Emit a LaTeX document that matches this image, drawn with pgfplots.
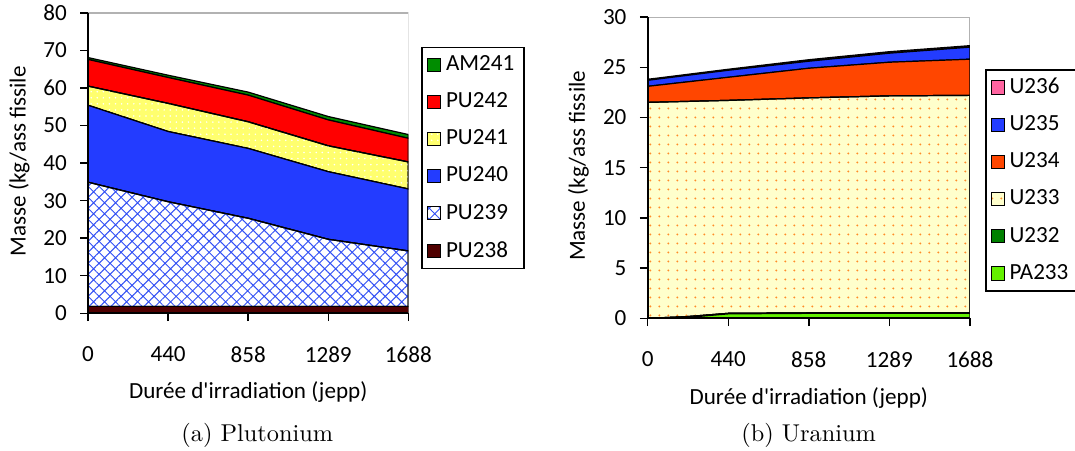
\documentclass[border=0pt]{standalone}
\usepackage{fontspec}
\usepackage{pgfplots}
\pgfplotsset{compat=1.18}
\usetikzlibrary{patterns,patterns.meta}
\newfontfamily\calibri{Carlito}
\definecolor{amgreen}{RGB}{0,140,0}
\definecolor{pured}{RGB}{255,0,0}
\definecolor{puyellow}{RGB}{255,255,110}
\definecolor{publue}{RGB}{35,60,255}
\definecolor{puhatch}{RGB}{50,80,245}
\definecolor{pumaroon}{RGB}{80,0,0}
\definecolor{upink}{RGB}{255,100,160}
\definecolor{uorange}{RGB}{255,70,0}
\definecolor{ulight}{RGB}{255,255,204}
\definecolor{udot}{RGB}{255,140,40}
\definecolor{ugreen}{RGB}{0,128,0}
\definecolor{palime}{RGB}{100,240,0}
\pgfplotsset{
  myaxis/.style={
    scale only axis,
    font=\calibri\fontsize{9.5}{11}\selectfont,
    /pgf/number format/assume math mode=true,
    stack plots=y, area style,
    xmin=0, xmax=4,
    xtick={0,1,2,3,4}, xticklabels={0,440,858,1289,1688},
    axis x line*=bottom, axis y line*=left,
    axis line style={black, line width=0.8pt},
    tick align=outside, major tick length=3.2pt,
    tick style={black, line width=0.6pt},
    xticklabel style={yshift=-7pt},
    yticklabel style={xshift=-2pt},
    xlabel style={at={(axis description cs:0.5,-0.263)}, anchor=center},
    ylabel style={at={(axis description cs:-0.215,0.506)}, anchor=center, rotate=0},
    reverse legend,
    legend cell align=left,
    legend style={draw=black, line width=0.6pt, font=\calibri\fontsize{9.5}{11}\selectfont,
      row sep=3.6pt, inner xsep=2pt, inner ysep=1.3pt},
    legend image code/.code={\draw[#1,draw=black,line width=0.4pt] (0pt,-2.7pt) rectangle (5.4pt,2.7pt);},
  },
  every axis plot/.append style={draw=black, line width=0.5pt},
}
\begin{document}
\begin{tikzpicture}
\path[use as bounding box] (0,0) rectangle (442pt,185.2pt);
% ---------------- Plutonium ----------------
\begin{axis}[myaxis,
  at={(36.2pt,56.4pt)}, anchor=south west,
  width=131.7pt, height=123.5pt,
  ymin=0, ymax=80, ytick={0,10,...,80},
  xlabel={Durée d'irradiation (jepp)},
  ylabel={Masse (kg/ass fissile},
  legend style={at={(axis description cs:1.041,0.887)}, anchor=north west},
]
\addplot[fill=pumaroon] coordinates {(0,1.8) (1,1.8) (2,1.8) (3,1.8) (4,1.8)} \closedcycle;
\addlegendentry{PU238}
\addplot[fill=white, postaction={pattern={Hatch[distance=3.2pt,angle=45,line width=0.4pt]}, pattern color=puhatch}]
  coordinates {(0,33.1) (1,27.9) (2,23.5) (3,17.9) (4,14.8)} \closedcycle;
\addlegendentry{PU239}
\addplot[fill=publue] coordinates {(0,20.5) (1,18.7) (2,18.6) (3,18.0) (4,16.5)} \closedcycle;
\addlegendentry{PU240}
\addplot[fill=puyellow, postaction={pattern={Dots[distance=2.5pt,radius=0.35pt]}, pattern color=white}]
  coordinates {(0,5.1) (1,7.5) (2,7.1) (3,6.9) (4,7.2)} \closedcycle;
\addlegendentry{PU241}
\addplot[fill=pured] coordinates {(0,7.1) (1,6.9) (2,7.1) (3,6.9) (4,6.3)} \closedcycle;
\addlegendentry{PU242}
\addplot[fill=amgreen] coordinates {(0,0.5) (1,0.6) (2,0.8) (3,0.9) (4,1.0)} \closedcycle;
\addlegendentry{AM241}
\draw[gray!60, line width=0.6pt] (rel axis cs:0,1) -- (rel axis cs:1,1) -- (rel axis cs:1,0);
\end{axis}
% ---------------- Uranium ----------------
\begin{axis}[myaxis,
  at={(266.3pt,54.3pt)}, anchor=south west,
  width=132.5pt, height=123.9pt,
  ymin=0, ymax=30, ytick={0,5,...,30},
  xlabel={Durée d'irradiation (jepp)},
  ylabel={Masse (kg/ass fissile},
  legend style={at={(axis description cs:1.047,0.827)}, anchor=north west},
]
\addplot[fill=palime] coordinates {(0,0) (0.5,0.1) (1,0.45) (2,0.5) (3,0.5) (4,0.5)} \closedcycle;
\addlegendentry{PA233}
\addplot[fill=ugreen] coordinates {(0,0) (0.5,0.08) (1,0.05) (2,0.05) (3,0.05) (4,0.05)} \closedcycle;
\addlegendentry{U232}
\addplot[fill=ulight, postaction={pattern={Dots[distance=3.7pt,radius=0.45pt,xshift=1pt]}, pattern color=udot}]
  coordinates {(0,21.5) (0.5,21.42) (1,21.2) (2,21.4) (3,21.6) (4,21.65)} \closedcycle;
\addlegendentry{U233}
\addplot[fill=uorange] coordinates {(0,1.6) (0.5,1.95) (1,2.3) (2,2.95) (3,3.35) (4,3.6)} \closedcycle;
\addlegendentry{U234}
\addplot[fill=publue] coordinates {(0,0.6) (0.5,0.65) (1,0.7) (2,0.7) (3,0.9) (4,1.2)} \closedcycle;
\addlegendentry{U235}
\addplot[fill=upink] coordinates {(0,0.1) (0.5,0.1) (1,0.1) (2,0.15) (3,0.15) (4,0.15)} \closedcycle;
\addlegendentry{U236}
\draw[gray!60, line width=0.6pt] (rel axis cs:0,1) -- (rel axis cs:1,1) -- (rel axis cs:1,0);
\end{axis}
\node[font=\fontsize{10}{12}\selectfont] at (105.8pt,6.2pt) {(a) Plutonium};
\node[font=\fontsize{10}{12}\selectfont] at (332.5pt,6.2pt) {(b) Uranium};
\end{tikzpicture}
\end{document}
